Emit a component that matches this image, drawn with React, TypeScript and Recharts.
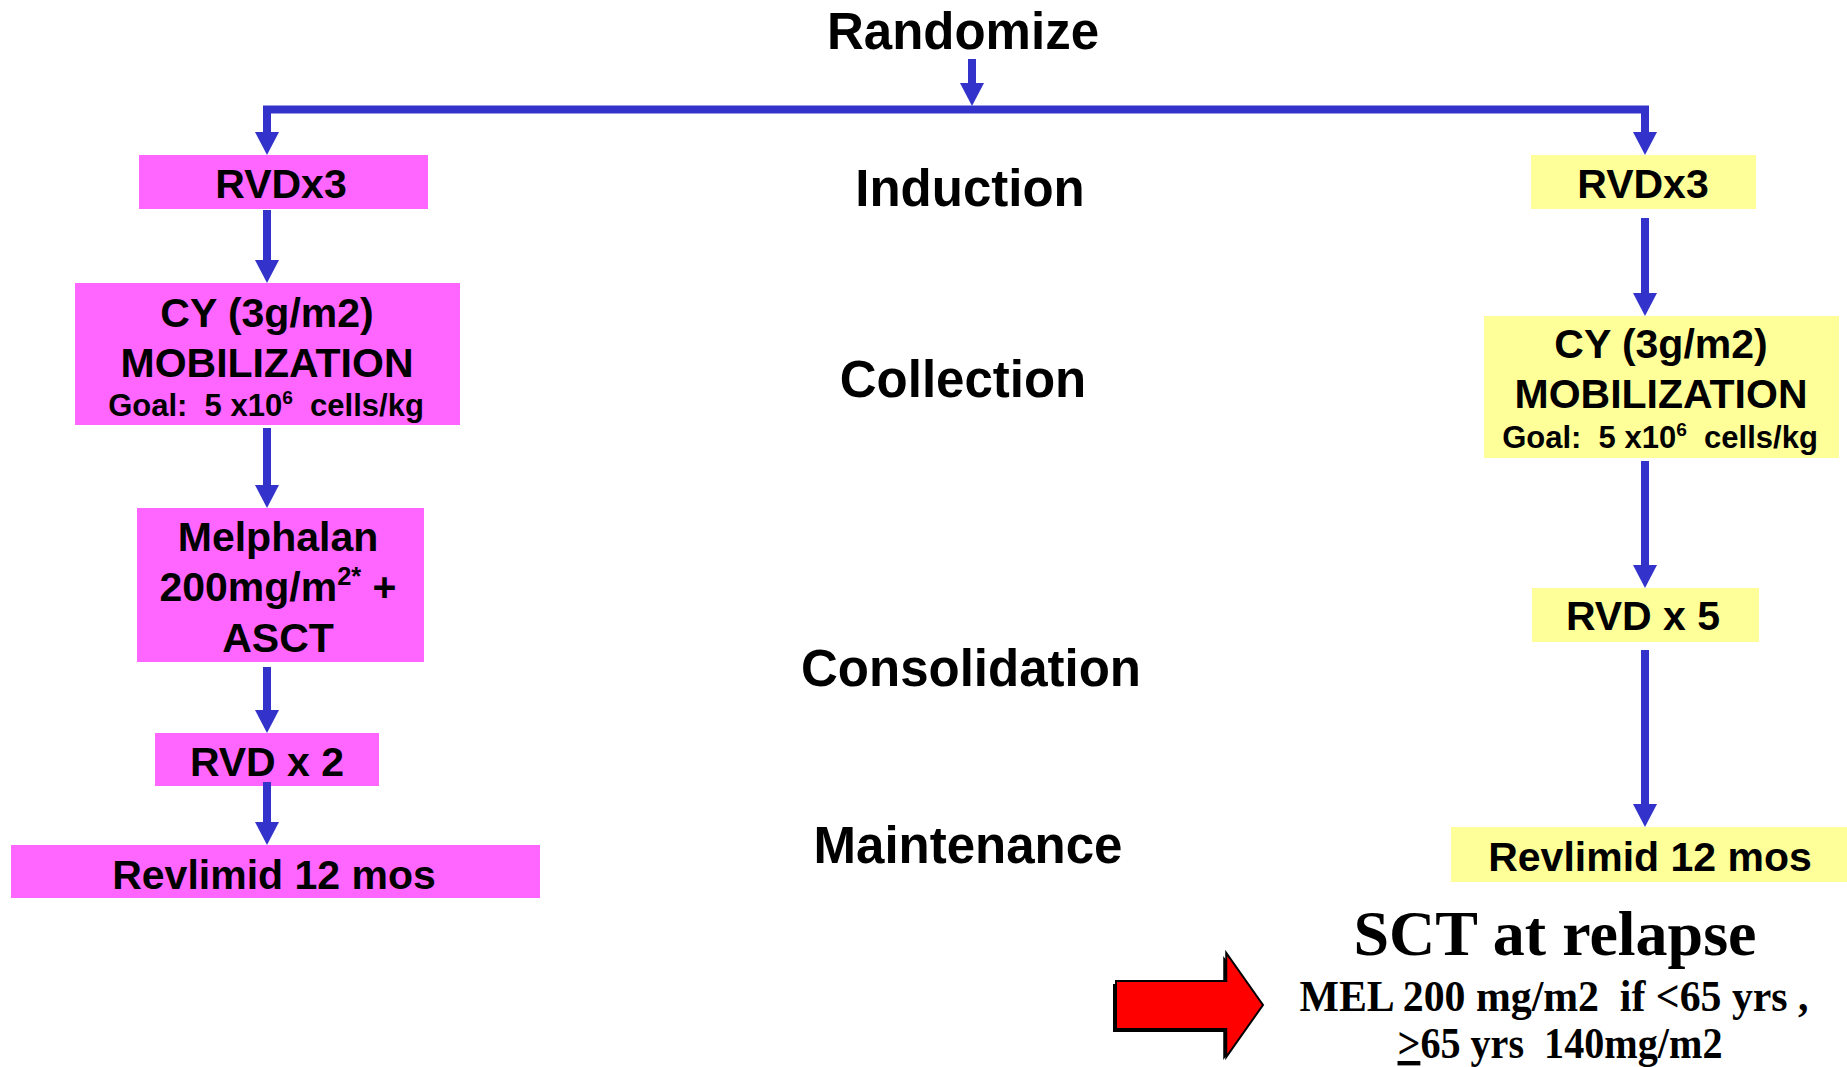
import React from 'react'
import { ScatterChart, Scatter, XAxis, YAxis, ReferenceArea, ReferenceLine } from 'recharts'

const W = 1847
const H = 1067
const BLUE = '#3333CC'
const PINK = '#FF66FF'
const YELLOW = '#FFFF99'
const SANS = '"Liberation Sans", Arial, sans-serif'
const SERIF = '"Liberation Serif", "Times New Roman", serif'

// boxes of the two arms, [x1, x2, y1, y2] in slide units (y grows down)
const transplantBoxes = [
  [139, 428, 155, 209],
  [75, 460, 283, 425],
  [137, 424, 508, 662],
  [155, 379, 733, 786],
  [11, 540, 845, 898],
]
const delayedBoxes = [
  [1531, 1756, 155, 209],
  [1484, 1839, 316, 458],
  [1532, 1759, 588, 642],
  [1451, 1847, 827, 882],
]

// arrows: [x, yFrom, yTo]
const arrows = [
  [972, 59, 106],
  [267, 106, 155],
  [1645, 106, 155],
  [267, 210, 283],
  [267, 428, 508],
  [267, 667, 733],
  [267, 782, 845],
  [1645, 218, 316],
  [1645, 461, 588],
  [1645, 650, 827],
]
const splitLine = [263, 1649, 109.5]

// phase column
const phases = ['Randomize', 'Induction', 'Collection', 'Consolidation', 'Maintenance']
const phaseX = [963, 970, 963, 971, 968]
const phaseY = [49, 206, 397, 686, 863]

// box texts ("^" marks a superscript run)
const transplantText = ['RVDx3', 'CY (3g/m2)', 'MOBILIZATION', 'Goal:  5 x10^6  cells/kg', 'Melphalan', '200mg/m^2* +', 'ASCT', 'RVD x 2', 'Revlimid 12 mos']
const transplantX = [281, 267, 267, 266, 278, 278, 278, 267, 274]
const transplantY = [198, 327, 377, 416, 551, 601, 652, 776, 889]
const delayedText = ['RVDx3', 'CY (3g/m2)', 'MOBILIZATION', 'Goal:  5 x10^6  cells/kg', 'RVD x 5', 'Revlimid 12 mos']
const delayedX = [1643, 1661, 1661, 1660, 1643, 1650]
const delayedY = [198, 358, 408, 448, 630, 871]

// relapse note
const relapseText = ['SCT at relapse', 'MEL 200 mg/m2  if <65 yrs ,', '_>_65 yrs  140mg/m2']
const relapseX = [1555, 1554, 1560]
const relapseY = [955, 1011, 1058]
const relapseArrow = [1116, 1263, 953, 1057]

const textPoints = [
  ...phases.map((t, i) => ({ x: phaseX[i], y: phaseY[i], t, kind: 'phase' })),
  ...transplantText.map((t, i) => ({ x: transplantX[i], y: transplantY[i], t, kind: t.startsWith('Goal') ? 'goal' : 'box' })),
  ...delayedText.map((t, i) => ({ x: delayedX[i], y: delayedY[i], t, kind: t.startsWith('Goal') ? 'goal' : 'box' })),
  ...relapseText.map((t, i) => ({ x: relapseX[i], y: relapseY[i], t, kind: i === 0 ? 'relapseTitle' : 'relapse' + i })),
]

const fonts: Record<string, any> = {
  phase: { fontFamily: SANS, fontSize: 51 },
  box: { fontFamily: SANS, fontSize: 41 },
  goal: { fontFamily: SANS, fontSize: 31 },
  relapseTitle: { fontFamily: SERIF, fontSize: 64 },
  relapse1: { fontFamily: SERIF, fontSize: 44, textLength: 509 },
  relapse2: { fontFamily: SERIF, fontSize: 44, textLength: 325 },
}

function renderRuns(t: string, size: number) {
  const out: any[] = []
  const parts = t.split(/(\^\S+|_[^_]+_)/)
  let pendingDy = 0
  parts.forEach((p, i) => {
    if (!p) return
    if (p.startsWith('^')) {
      const up = Math.round(size * 0.4)
      out.push(<tspan key={i} dy={-up} fontSize={size * 0.62}>{p.slice(1)}</tspan>)
      pendingDy = up
    } else if (p.startsWith('_')) {
      out.push(<tspan key={i} dy={pendingDy || undefined} textDecoration="underline">{p.slice(1, -1)}</tspan>)
      pendingDy = 0
    } else {
      out.push(<tspan key={i} dy={pendingDy || undefined}>{p}</tspan>)
      pendingDy = 0
    }
  })
  return out
}

function TextShape(props: any) {
  const { cx, cy, payload } = props
  const f = fonts[payload.kind]
  return (
    <text
      x={cx}
      y={cy}
      textAnchor="middle"
      fontFamily={f.fontFamily}
      fontSize={f.fontSize}
      fontWeight="bold"
      fill="#000"
      textLength={f.textLength}
      lengthAdjust={f.textLength ? 'spacingAndGlyphs' : undefined}
      style={{ whiteSpace: 'pre' }}
    >
      {renderRuns(payload.t, f.fontSize)}
    </text>
  )
}

function ArrowShape(props: any) {
  const { x1, y1, x2, y2 } = props
  const head = 23
  const hw = 12
  const yBase = y2 - head
  return (
    <g>
      <line x1={x1} y1={y1} x2={x2} y2={yBase + 1} stroke={BLUE} strokeWidth={8} />
      <polygon points={`${x2 - hw},${yBase} ${x2 + hw},${yBase} ${x2},${y2}`} fill={BLUE} />
    </g>
  )
}

function BigArrow(props: any) {
  const { x, y, width, height } = props
  const bodyTop = y + height * 0.27
  const bodyBot = y + height * 0.73
  const neck = x + width * 0.75
  const tipY = y + height * 0.5
  const pts = `${x},${bodyTop} ${neck},${bodyTop} ${neck},${y} ${x + width},${tipY} ${neck},${y + height} ${neck},${bodyBot} ${x},${bodyBot}`
  return (
    <g>
      <polygon points={pts} transform="translate(-3,3)" fill="#000" />
      <polygon points={pts} fill="#FF0000" stroke="#000" strokeWidth={2} />
    </g>
  )
}

export default function App() {
  return (
    <div style={{ position: 'absolute', left: 0, top: 0, width: W, height: H, background: '#fff' }}>
      <ScatterChart width={W} height={H} margin={{ top: 0, right: 0, bottom: 0, left: 0 }}>
        <XAxis type="number" dataKey="x" domain={[0, W]} hide allowDataOverflow />
        <YAxis type="number" dataKey="y" domain={[0, H]} reversed hide allowDataOverflow />
        {transplantBoxes.map((b, i) => (
          <ReferenceArea key={'t' + i} x1={b[0]} x2={b[1]} y1={b[2]} y2={b[3]} fill={PINK} fillOpacity={1} stroke="none" />
        ))}
        {delayedBoxes.map((b, i) => (
          <ReferenceArea key={'d' + i} x1={b[0]} x2={b[1]} y1={b[2]} y2={b[3]} fill={YELLOW} fillOpacity={1} stroke="none" />
        ))}
        <ReferenceLine
          segment={[{ x: splitLine[0], y: splitLine[2] }, { x: splitLine[1], y: splitLine[2] }]}
          stroke={BLUE}
          strokeWidth={8}
        />
        {arrows.map((a, i) => (
          <ReferenceLine key={'a' + i} segment={[{ x: a[0], y: a[1] }, { x: a[0], y: a[2] }]} shape={ArrowShape} />
        ))}
        <ReferenceArea
          x1={relapseArrow[0]}
          x2={relapseArrow[1]}
          y1={relapseArrow[2]}
          y2={relapseArrow[3]}
          shape={BigArrow}
        />
        <Scatter data={textPoints} shape={TextShape} isAnimationActive={false} />
      </ScatterChart>
    </div>
  )
}
